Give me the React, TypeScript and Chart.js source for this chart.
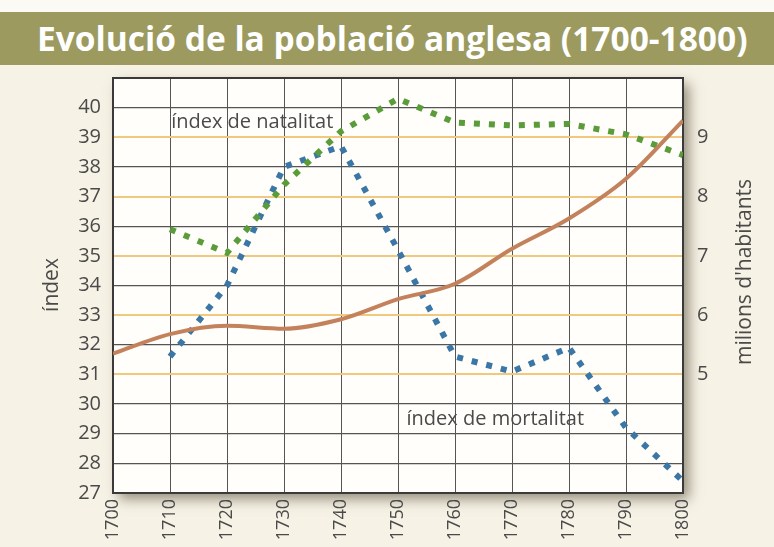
import React, { useEffect, useRef } from "react";
import { Chart, registerables } from "chart.js";

Chart.register(...registerables);

const TITLE = "Evolució de la població anglesa (1700-1800)";
const years = [1700, 1710, 1720, 1730, 1740, 1750, 1760, 1770, 1780, 1790, 1800];
const natalitat = [null, 35.9, 35.1, 37.4, 39.2, 40.3, 39.5, 39.4, 39.45, 39.1, 38.4];
const mortalitat = [null, 31.6, 34.0, 38.0, 38.7, 35.2, 31.6, 31.1, 31.9, 29.2, 27.4];
const poblacio = [5.35, 5.68, 5.82, 5.77, 5.93, 6.27, 6.53, 7.12, 7.63, 8.3, 9.28];
const leftTickLabels = [27, 28, 29, 30, 31, 32, 33, 34, 35, 36, 37, 38, 39, 40];
const rightTickLabels = [5, 6, 7, 8, 9];
const leftTitle = "índex";
const rightTitle = "milions d'habitants";
const natLabel = "índex de natalitat";
const morLabel = "índex de mortalitat";

const FONT = '"Open Sans", "Noto Sans", sans-serif';
const TEXT = "#4a4a4a";

function pts(vals: (number | null)[]) {
  return years
    .map((x, i) => ({ x, y: vals[i] }))
    .filter((p) => p.y !== null) as { x: number; y: number }[];
}

const decor = {
  id: "decor",
  beforeDraw(chart: any) {
    const { ctx, chartArea: a } = chart;
    ctx.save();
    ctx.shadowColor = "rgba(70,60,40,0.55)";
    ctx.shadowBlur = 12;
    ctx.shadowOffsetX = 6;
    ctx.shadowOffsetY = 6;
    ctx.fillStyle = "#fffefa";
    ctx.fillRect(a.left, a.top, a.right - a.left, a.bottom - a.top);
    ctx.restore();
  },
  afterDatasetsDraw(chart: any) {
    const { ctx } = chart;
    const x = chart.scales.x;
    const y = chart.scales.y;
    ctx.save();
    ctx.fillStyle = TEXT;
    ctx.font = `20px ${FONT}`;
    ctx.textAlign = "left";
    ctx.textBaseline = "middle";
    ctx.fillText(natLabel, x.getPixelForValue(1710.2), y.getPixelForValue(39.5));
    ctx.fillText(morLabel, x.getPixelForValue(1751.5), y.getPixelForValue(29.5));
    ctx.font = `21px ${FONT}`;
    ctx.textAlign = "center";
    ctx.save();
    ctx.translate(52, 285);
    ctx.rotate(-Math.PI / 2);
    ctx.fillText(leftTitle, 0, 0);
    ctx.restore();
    ctx.save();
    ctx.translate(745, 272);
    ctx.rotate(-Math.PI / 2);
    ctx.fillText(rightTitle, 0, 0);
    ctx.restore();
    ctx.restore();
  },
};

export default function App() {
  const ref = useRef<HTMLCanvasElement>(null);
  useEffect(() => {
    if (!ref.current) return;
    const chart = new Chart(ref.current, {
      type: "line",
      data: {
        datasets: [
          {
            label: "població",
            data: pts(poblacio),
            yAxisID: "y1",
            borderColor: "#c3825c",
            borderWidth: 4,
            pointRadius: 0,
            cubicInterpolationMode: "monotone",
          },
          {
            label: "natalitat",
            data: pts(natalitat),
            yAxisID: "y",
            borderColor: "#5a9c3a",
            borderWidth: 6,
            borderDash: [6, 9],
            borderCapStyle: "butt",
            pointRadius: 0,
            tension: 0,
          },
          {
            label: "mortalitat",
            data: pts(mortalitat),
            yAxisID: "y",
            borderColor: "#3b77a6",
            borderWidth: 6,
            borderDash: [6, 9],
            borderCapStyle: "butt",
            pointRadius: 0,
            tension: 0,
          },
        ],
      },
      options: {
        responsive: false,
        animation: false,
        layout: { padding: { top: 78, left: 0, right: 0, bottom: 0 } },
        plugins: { legend: { display: false }, tooltip: { enabled: false }, title: { display: false } },
        scales: {
          x: {
            type: "linear",
            min: 1700,
            max: 1800,
            afterFit: (s: any) => {
              s.height = 54;
            },
            border: { color: "#3a3a3a", width: 2 },
            grid: { color: "#555", lineWidth: 1, drawTicks: false },
            ticks: {
              stepSize: 10,
              autoSkip: false,
              maxRotation: 90,
              minRotation: 90,
              padding: 6,
              color: TEXT,
              font: { family: FONT, size: 18 },
              callback: (v: any) => String(v),
            },
          },
          y: {
            position: "left",
            min: 27,
            max: 41,
            afterFit: (s: any) => {
              s.width = 113;
            },
            border: { color: "#3a3a3a", width: 2 },
            grid: {
              drawTicks: false,
              color: (c: any) => {
                const v = c.tick.value;
                if (v >= 41) return "#3a3a3a";
                if (v <= 30 || v % 2 === 0) return "#555";
                return "rgba(0,0,0,0)";
              },
              lineWidth: (c: any) => (c.tick.value >= 41 ? 2 : 1.2),
            },
            ticks: {
              stepSize: 1,
              autoSkip: false,
              padding: 12,
              color: TEXT,
              font: { family: FONT, size: 20 },
              callback: (v: any) => (leftTickLabels.includes(Number(v)) ? String(v) : ""),
            },
          },
          y1: {
            position: "right",
            min: 3,
            max: 10,
            afterFit: (s: any) => {
              s.width = 91;
            },
            border: { color: "#3a3a3a", width: 2 },
            grid: {
              drawTicks: false,
              color: (c: any) =>
                rightTickLabels.includes(c.tick.value) ? "#f0c97e" : "rgba(0,0,0,0)",
              lineWidth: 2,
            },
            ticks: {
              stepSize: 1,
              autoSkip: false,
              padding: 14,
              color: TEXT,
              font: { family: FONT, size: 20 },
              callback: (v: any) => (rightTickLabels.includes(Number(v)) ? String(v) : ""),
            },
          },
        },
      },
      plugins: [decor],
    });
    return () => chart.destroy();
  }, []);

  return (
    <div
      style={{
        position: "absolute",
        left: 0,
        top: 0,
        width: 774,
        height: 547,
        background: "#f6f2e5",
        overflow: "hidden",
      }}
    >
      <div style={{ position: "absolute", left: 0, top: 0, width: 774, height: 12, background: "#fbfaf5" }} />
      <div
        style={{
          position: "absolute",
          left: 0,
          top: 12,
          width: 774,
          height: 53,
          background: "#9c9a5e",
          color: "#ffffff",
          fontFamily: FONT,
          fontWeight: 700,
          fontSize: 33.5,
          lineHeight: "53px",
          paddingLeft: 37,
          boxSizing: "border-box",
          whiteSpace: "nowrap",
        }}
      >
        {TITLE}
      </div>
      <canvas
        ref={ref}
        width={774}
        height={547}
        style={{ position: "absolute", left: 0, top: 0, width: 774, height: 547 }}
      />
    </div>
  );
}
